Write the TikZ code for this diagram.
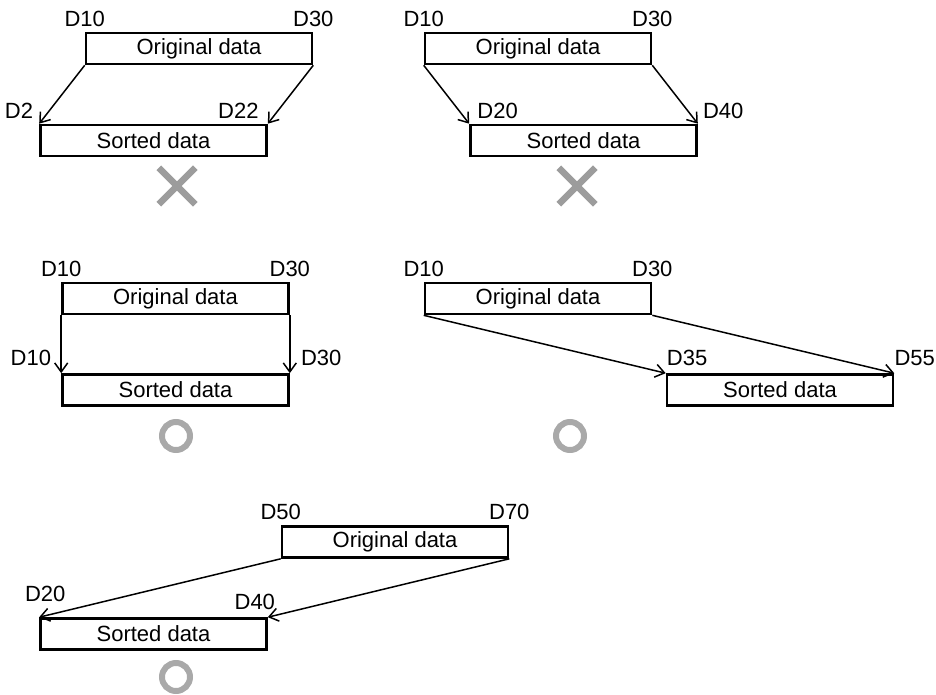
\documentclass[tikz,border=0pt]{standalone}
\usepackage{fontspec}
\setmainfont{Liberation Sans}
\usepackage{xcolor}
\usetikzlibrary{arrows.meta,shapes.misc,positioning}

\definecolor{markgray}{HTML}{9C9C9C}
\definecolor{ringgray}{HTML}{A9A9A9}

\tikzset{
  databox/.style={draw, line width=2.6pt, minimum width=226pt, minimum height=31pt, inner sep=0pt},
  reglabel/.style={inner sep=0pt},
  dataarrow/.style={line width=1.5pt, -{Straight Barb[length=9pt,width=13pt,line width=1.5pt]}},
  ngmark/.style={cross out, draw=markgray, line width=6.5pt, minimum size=30pt, inner sep=0pt},
  okmark/.style={circle, draw=ringgray, line width=6pt, minimum size=28pt, inner sep=0pt}
}

\begin{document}
\begin{tikzpicture}[x=1pt, y=-1pt, font=\fontsize{22pt}{26pt}\selectfont]
\useasboundingbox (0,0) rectangle (936,695);

% Case 1: moved up, overlapping
\node[databox] (orig1) at (199,48.5) {Original data};
\node[databox] (sort1) at (153.5,140.5) {Sorted data};
\node[reglabel, above=5pt of orig1.north west] (a1) {D10};
\node[reglabel, above=5pt of orig1.north east] (b1) {D30};
\node[reglabel, above left=5pt and 6pt of sort1.north west] (c1) {D2};
\node[reglabel, above left=5pt and 9pt of sort1.north east] (d1) {D22};
\draw[dataarrow] (orig1.south west) -- (sort1.north west);
\draw[dataarrow] (orig1.south east) -- (sort1.north east);
\node[ngmark] (ng1) at (177,186) {};

% Case 2: moved down, overlapping
\node[databox] (orig2) at (538,48.5) {Original data};
\node[databox] (sort2) at (583.5,140.5) {Sorted data};
\node[reglabel, above=5pt of orig2.north west] (a2) {D10};
\node[reglabel, above=5pt of orig2.north east] (b2) {D30};
\node[reglabel, above right=5pt and 8pt of sort2.north west] (c2) {D20};
\node[reglabel, above right=5pt and 5pt of sort2.north east] (d2) {D40};
\draw[dataarrow] (orig2.south west) -- (sort2.north west);
\draw[dataarrow] (orig2.south east) -- (sort2.north east);
\node[ngmark] (ng2) at (577,186) {};

% Case 3: same devices
\node[databox] (orig3) at (175.5,298.5) {Original data};
\node[databox] (sort3) at (175.5,390) {Sorted data};
\node[reglabel, above=5pt of orig3.north west] (a3) {D10};
\node[reglabel, above=5pt of orig3.north east] (b3) {D30};
\node[reglabel, above left=7pt and 10pt of sort3.north west] (c3) {D10};
\node[reglabel, above right=7pt and 11pt of sort3.north east] (d3) {D30};
\draw[dataarrow] (orig3.south west) -- (sort3.north west);
\draw[dataarrow] (orig3.south east) -- (sort3.north east);
\node[okmark] (ok3) at (176,436) {};

% Case 4: separate area, higher
\node[databox] (orig4) at (538,298.5) {Original data};
\node[databox] (sort4) at (780,390) {Sorted data};
\node[reglabel, above=5pt of orig4.north west] (a4) {D10};
\node[reglabel, above=5pt of orig4.north east] (b4) {D30};
\node[reglabel, above right=7pt and 1pt of sort4.north west] (c4) {D35};
\node[reglabel, above right=7pt and 0pt of sort4.north east] (d4) {D55};
\draw[dataarrow] (orig4.south west) -- (sort4.north west);
\draw[dataarrow] (orig4.south east) -- (sort4.north east);
\node[okmark] (ok4) at (570,436) {};

% Case 5: separate area, lower
\node[databox] (orig5) at (395,542) {Original data};
\node[databox] (sort5) at (153.5,634) {Sorted data};
\node[reglabel, above=5pt of orig5.north west] (a5) {D50};
\node[reglabel, above=5pt of orig5.north east] (b5) {D70};
\node[reglabel, above=15pt of sort5.north west, xshift=6pt] (c5) {D20};
\node[reglabel, above=7pt of sort5.north east, xshift=-13pt] (d5) {D40};
\draw[dataarrow] (orig5.south west) -- (sort5.north west);
\draw[dataarrow] (orig5.south east) -- (sort5.north east);
\node[okmark] (ok5) at (176,677) {};
\end{tikzpicture}
\end{document}
